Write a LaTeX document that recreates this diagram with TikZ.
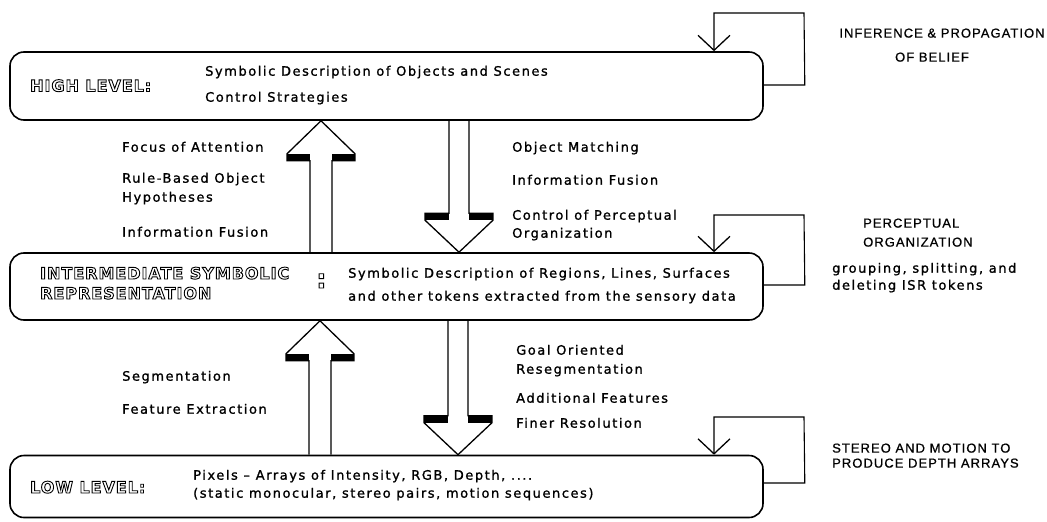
\documentclass[tikz,border=0pt]{standalone}
\usepackage{fontspec}
\setmainfont{DejaVu Sans}
\newfontfamily\labfont[LetterSpace=12,FakeBold=1.2]{DejaVu Sans}
\newfontfamily\capfont[LetterSpace=8,FakeBold=0.8]{Liberation Sans}
\newfontfamily\outfont[LetterSpace=6]{DejaVu Sans}
\usetikzlibrary{arrows.meta,calc}
\newcommand\outl[1]{\special{pdf:literal direct 1 Tr 0.9 w}#1\special{pdf:literal direct 0 Tr}}
\newcommand\UpBlock[4]{%
  \coordinate (#1t) at (#2,0 |- #3);
  \coordinate (#1b) at (#2,0 |- #4);
  \fill ($(#1t)+(-34,33)$) rectangle ($(#1t)+(-11,40)$);
  \fill ($(#1t)+(11,33)$) rectangle ($(#1t)+(34,40)$);
  \draw[blockar] ($(#1b)+(-11,0)$) -- ($(#1t)+(-11,40)$) -- ($(#1t)+(-34,40)$) -- ($(#1t)+(-34,33)$) -- (#1t) -- ($(#1t)+(34,33)$) -- ($(#1t)+(34,40)$) -- ($(#1t)+(11,40)$) -- ($(#1b)+(11,0)$);
}
\newcommand\DnBlock[4]{%
  \coordinate (#1s) at (#2,0 |- #3);
  \coordinate (#1t) at (#2,0 |- #4);
  \fill ($(#1t)+(-34,-39)$) rectangle ($(#1t)+(-10,-32)$);
  \fill ($(#1t)+(10,-39)$) rectangle ($(#1t)+(34,-32)$);
  \draw[blockar] ($(#1s)+(-10,0)$) -- ($(#1t)+(-10,-39)$) -- ($(#1t)+(-34,-39)$) -- ($(#1t)+(-34,-32)$) -- (#1t) -- ($(#1t)+(34,-32)$) -- ($(#1t)+(34,-39)$) -- ($(#1t)+(10,-39)$) -- ($(#1s)+(10,0)$);
}
\begin{document}
\begin{tikzpicture}[x=1pt,y=-1pt,
  box/.style={draw,line width=1.6pt,rounded corners=14pt,inner sep=0pt,minimum width=753pt},
  lab/.style={anchor=base west,inner sep=0pt,font={\labfont\fontsize{13pt}{15pt}\selectfont}},
  caplab/.style={anchor=base west,inner sep=0pt,font={\capfont\fontsize{13pt}{15pt}\selectfont}},
  outlab/.style={anchor=base west,inner sep=0pt,font={\outfont\bfseries\fontsize{16pt}{19pt}\selectfont}},
  blockar/.style={draw,line width=1.3pt,line join=miter},
  loopar/.style={draw,line width=1.1pt,-{Straight Barb[length=15pt,width=32pt,line width=1.3pt]}}
]
\useasboundingbox (0,0) rectangle (1047,522);
% outlined level titles (drawn first)
\node[outlab] (hl) at (30,91.5) {\outl{HIGH LEVEL:}};
\node[outlab] (il1) at (40,279) {\outl{INTERMEDIATE SYMBOLIC}};
\node[outlab] (il2) at (40,299) {\outl{REPRESENTATION}};
\node[outlab,font={\outfont\bfseries\fontsize{26pt}{26pt}\selectfont}] (icol) at (316,288) {\outl{:}};
\node[outlab] (ll) at (30,493) {\outl{LOW LEVEL:}};
% boxes
\node[box,minimum height=68pt] (high) at (386.5,86) {};
\node[box,minimum height=67pt] (isr) at (386.5,286.5) {};
\node[box,minimum height=62pt] (low) at (386.5,486.5) {};
% box texts
\node[lab] (h1) at (205,75.7) {Symbolic Description of Objects and Scenes};
\node[lab] (h2) at (205,101.7) {Control Strategies};
\node[lab] (i1) at (348,277.7) {Symbolic Description of Regions, Lines, Surfaces};
\node[lab] (i2) at (348,300.7) {and other tokens extracted from the sensory data};
\node[lab] (l1) at (193,479.7) {Pixels – Arrays of Intensity, RGB, Depth, ....};
\node[lab] (l2) at (193,497.7) {(static monocular, stereo pairs, motion sequences)};
% block arrows
\UpBlock{ua}{321}{high.south}{isr.north}
\DnBlock{da}{459}{high.south}{isr.north}
\UpBlock{ub}{320}{isr.south}{low.north}
\DnBlock{db}{458}{isr.south}{low.north}
% arrow labels
\node[lab] (a1) at (122,151.7) {Focus of Attention};
\node[lab] (a2) at (122,182.7) {Rule-Based Object};
\node[lab] (a3) at (122,201.7) {Hypotheses};
\node[lab] (a4) at (122,236.7) {Information Fusion};
\node[lab] (b1) at (512,151.7) {Object Matching};
\node[lab] (b2) at (512,184.7) {Information Fusion};
\node[lab] (b3) at (512,219.7) {Control of Perceptual};
\node[lab] (b4) at (512,237.7) {Organization};
\node[lab] (c1) at (122,380.7) {Segmentation};
\node[lab] (c2) at (122,413.7) {Feature Extraction};
\node[lab] (d1) at (516,354.7) {Goal Oriented};
\node[lab] (d2) at (516,373.7) {Resegmentation};
\node[lab] (d3) at (516,402.7) {Additional Features};
\node[lab] (d4) at (516,427.7) {Finer Resolution};
% loops
\draw[loopar] ([yshift=1pt]high.east) -- ++(41,0) -- (804,13) -- (714,13) -- (714,0 |- high.north);
\draw[loopar] ([yshift=1.5pt]isr.east) -- ++(41,0) -- (804,215) -- (714,215) -- (714,0 |- isr.north);
\draw[loopar] ([yshift=3.5pt]low.east) -- ++(41,0) -- (804,417) -- (714,417) -- (714,0 |- low.north);
% loop labels
\node[caplab,anchor=base] (r1) at (942,37.6) {INFERENCE \& PROPAGATION};
\node[caplab,anchor=base] (r2) at (932,61.6) {OF BELIEF};
\node[caplab] (r3) at (863,227.6) {PERCEPTUAL};
\node[caplab] (r4) at (863,246.6) {ORGANIZATION};
\node[lab] (r5) at (832,272.7) {grouping, splitting, and};
\node[lab] (r6) at (832,289.7) {deleting ISR tokens};
\node[caplab] (r7) at (832,452.6) {STEREO AND MOTION TO};
\node[caplab] (r8) at (832,467.6) {PRODUCE DEPTH ARRAYS};
\end{tikzpicture}
\end{document}
